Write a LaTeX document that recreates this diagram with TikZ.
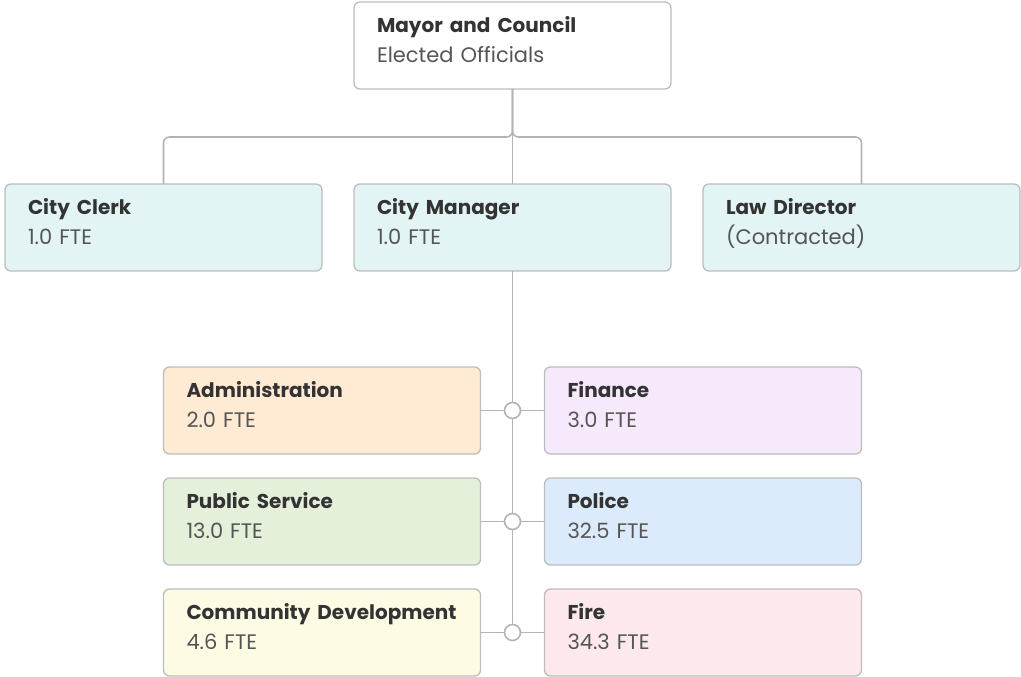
\documentclass[tikz,border=0pt]{standalone}
\usepackage{fontspec}
\setmainfont{Poppins}
\usepackage{xcolor}
\usetikzlibrary{positioning, calc}

\definecolor{linegray}{HTML}{B3B3B3}
\definecolor{edgegray}{HTML}{BDBDBD}
\definecolor{titlegray}{HTML}{333333}
\definecolor{subgray}{HTML}{555555}
\definecolor{tealfill}{HTML}{E2F4F4}
\definecolor{adminfill}{HTML}{FFEBD4}
\definecolor{financefill}{HTML}{F6E9FB}
\definecolor{servicefill}{HTML}{E5F0DB}
\definecolor{policefill}{HTML}{DBEBFC}
\definecolor{devfill}{HTML}{FEFBE5}
\definecolor{firefill}{HTML}{FDE9EB}

% two-line unit text: bold name, lighter detail
\newcommand{\unitbox}[2]{{\bfseries\fontsize{20}{30}\selectfont\color{titlegray}\mbox{#1}}\\{\color{subgray}#2}\rule[-12pt]{0pt}{0pt}}

\begin{document}
\begin{tikzpicture}[
  x=1pt, y=1pt,
  node distance=24pt and 32pt,
  unit/.style={draw=edgegray, line width=1.3pt, rounded corners=6pt, align=left,
    text width=271pt, inner xsep=23pt, inner ysep=0pt, outer sep=0pt,
    minimum width=317pt, minimum height=87pt, font=\fontsize{21}{30}\selectfont},
  link/.style={draw=linegray, line width=1.6pt},
  joint/.style={circle, draw=linegray, line width=1.6pt, fill=white, minimum size=16pt, inner sep=0pt}
]
\path[use as bounding box] (0,0) rectangle (1021,-677);

\node[unit, fill=white] (mayor) at (512.5,-45.5) {\unitbox{Mayor and Council}{Elected Officials}};
\node[unit, fill=tealfill, below=95pt of mayor] (manager) {\unitbox{City Manager}{1.0 FTE}};
\node[unit, fill=tealfill, left=of manager] (clerk) {\unitbox{City Clerk}{1.0 FTE}};
\node[unit, fill=tealfill, right=of manager] (law) {\unitbox{Law Director}{(Contracted)}};

\node[unit, fill=adminfill, below left=96pt and 32pt of manager.south] (admin) {\unitbox{Administration}{2.0 FTE}};
\node[unit, fill=financefill, below right=96pt and 32pt of manager.south] (finance) {\unitbox{Finance}{3.0 FTE}};
\node[unit, fill=servicefill, below=of admin] (service) {\unitbox{Public Service}{13.0 FTE}};
\node[unit, fill=policefill, below=of finance] (police) {\unitbox{Police}{32.5 FTE}};
\node[unit, fill=devfill, below=of service] (devel) {\unitbox{Community Development}{4.6 FTE}};
\node[unit, fill=firefill, below=of police] (fire) {\unitbox{Fire}{34.3 FTE}};

% council to the three appointed offices
\draw[link] (mayor.south) -- (manager.north);
\draw[link, rounded corners=6pt] (mayor.south) -- ++(0,-48) -| (clerk.north);
\draw[link, rounded corners=6pt] (mayor.south) -- ++(0,-48) -| (law.north);

% department spine
\coordinate (j1) at (manager.south |- admin.east);
\coordinate (j2) at (manager.south |- service.east);
\coordinate (j3) at (manager.south |- devel.east);
\draw[link] (manager.south) -- (j3);
\draw[link] (admin.east) -- (finance.west);
\draw[link] (service.east) -- (police.west);
\draw[link] (devel.east) -- (fire.west);
\foreach \j in {j1,j2,j3}
  \node[joint] at (\j) {};
\end{tikzpicture}
\end{document}
